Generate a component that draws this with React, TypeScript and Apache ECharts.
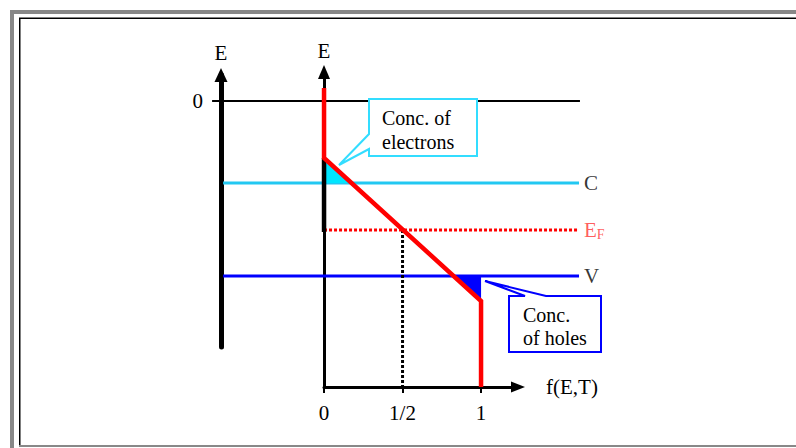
import React, { useEffect, useRef } from "react";
import * as echarts from "echarts";

const FONT = "Liberation Serif";

// Energy values (arbitrary units, 0 = top reference line)
const E_MIN = -5.72;
const E_MAX = 0.58;
const E_LEFT_MIN = -4.92;
const E_LEFT_MAX = 0.52;
const E_ZERO = 0;
const E_C = -1.64;
const E_F = -2.58;
const E_V = -3.5;

// Occupation axis
const F_MAX = 1.236;
const F_WIDE_MIN = -0.79;
const F_WIDE_MAX = 1.885;
const fTicks = [0, 0.5, 1];
const fTickLabels = ["0", "1/2", "1"];

// Fermi function f(E,T) (linearised sketch)
const fermiF = [0, 0, 1, 1];
const fermiE = [0.26, -1.14, -4.0, E_MIN];

// Level lines extent along f
const zeroLineF = [-0.713, 1.63];
const bandLineF = [-0.643, 1.624];
const fermiLevelF = [0, 1.624];

// Shaded regions (triangle vertices f,E)
const electronsFill = [0, -1.14, 0, E_C, 0.175, E_C];
const holesFill = [0.825, E_V, 1, E_V, 1, -4.0];

const levelLabels = ["C", "F", "V"];

function seg(fs: number[], es: number[]) {
  return fs.map((f, i) => [f, es[i]]);
}

export default function App() {
  const ref = useRef<HTMLDivElement>(null);
  useEffect(() => {
    if (!ref.current) return;
    const chart = echarts.init(ref.current, null, { renderer: "svg" });
    const txt = { fontFamily: FONT, fontSize: 21, color: "#000" };
    const tri = (color: string) => (params: any, api: any) => {
      const pts = [0, 2, 4].map((i) => api.coord([api.value(i), api.value(i + 1)]));
      return { type: "polygon", shape: { points: pts }, style: { fill: color } };
    };
    const wide = { xAxisIndex: 2, yAxisIndex: 2 };
    const option: any = {
      animation: false,
      backgroundColor: "#fff",
      grid: [
        { left: 324, top: 72, width: 194, height: 315, outerBoundsMode: "none" },
        { left: 221, top: 75, width: 10, height: 272, outerBoundsMode: "none" },
        { left: 200, top: 72, width: 420, height: 315, outerBoundsMode: "none" },
      ],
      xAxis: [
        {
          type: "value",
          gridIndex: 0,
          min: 0,
          max: F_MAX,
          axisLine: {
            show: true,
            onZero: false,
            symbol: ["none", "triangle"],
            symbolSize: [11, 14],
            lineStyle: { color: "#000", width: 3 },
          },
          axisTick: { show: true, customValues: fTicks, length: 6, lineStyle: { color: "#000", width: 2 } },
          axisLabel: {
            show: true,
            customValues: fTicks,
            formatter: (v: number) => {
              const i = fTicks.indexOf(v);
              return i >= 0 ? fTickLabels[i] : "";
            },
            margin: 15,
            ...txt,
          },
          splitLine: { show: false },
          name: "f(E,T)",
          nameLocation: "end",
          nameGap: 28,
          nameTextStyle: { ...txt, padding: [0, 0, 13, 0] },
          z: 3,
        },
        { type: "value", gridIndex: 1, min: 0, max: 1, show: false },
        { type: "value", gridIndex: 2, min: F_WIDE_MIN, max: F_WIDE_MAX, show: false },
      ],
      yAxis: [
        {
          type: "value",
          gridIndex: 0,
          min: E_MIN,
          max: E_MAX,
          axisLine: {
            show: true,
            onZero: false,
            symbol: ["none", "triangle"],
            symbolSize: [12, 14],
            lineStyle: { color: "#000", width: 3 },
          },
          axisTick: { show: false },
          axisLabel: { show: false },
          splitLine: { show: false },
          name: "E",
          nameLocation: "end",
          nameGap: 11,
          nameTextStyle: { ...txt },
        },
        {
          type: "value",
          gridIndex: 1,
          min: E_LEFT_MIN,
          max: E_LEFT_MAX,
          axisLine: {
            show: true,
            onZero: false,
            symbol: ["none", "triangle"],
            symbolSize: [13, 14],
            lineStyle: { color: "#000", width: 5 },
          },
          axisTick: { show: false },
          axisLabel: {
            show: true,
            customValues: [E_ZERO],
            formatter: () => "0",
            margin: 18,
            ...txt,
          },
          splitLine: { show: false },
          name: "E",
          nameLocation: "end",
          nameGap: 12,
          nameTextStyle: { ...txt },
        },
        { type: "value", gridIndex: 2, min: E_MIN, max: E_MAX, show: false },
      ],
      series: [
        {
          type: "line",
          ...wide,
          symbol: "none",
          data: seg(zeroLineF, [E_ZERO, E_ZERO]),
          lineStyle: { color: "#000", width: 2 },
          z: 2,
        },
        {
          type: "line",
          ...wide,
          symbol: "none",
          data: seg(bandLineF, [E_C, E_C]),
          lineStyle: { color: "#22c8f2", width: 3 },
          z: 2,
        },
        {
          type: "line",
          ...wide,
          symbol: "none",
          data: seg(bandLineF, [E_V, E_V]),
          lineStyle: { color: "#0000ff", width: 3 },
          z: 2,
        },
        {
          type: "line",
          ...wide,
          symbol: "none",
          data: seg(fermiLevelF, [E_F, E_F]),
          lineStyle: { color: "#ff0000", width: 3, type: [3, 2] },
          z: 2,
        },
        {
          type: "line",
          ...wide,
          symbol: "none",
          data: seg([0.5, 0.5], [E_F, E_MIN]),
          lineStyle: { color: "#000", width: 3, type: [3, 2] },
          z: 2,
        },
        {
          type: "custom",
          ...wide,
          renderItem: tri("#00e6ff"),
          data: [electronsFill],
          z: 3,
        },
        {
          type: "custom",
          ...wide,
          renderItem: tri("#0000ff"),
          data: [holesFill],
          z: 3,
        },
        {
          type: "line",
          ...wide,
          symbol: "none",
          data: seg([0, 0], [fermiE[1], E_F - 0.04]),
          lineStyle: { color: "#000", width: 4.5 },
          z: 4,
        },
        {
          type: "line",
          ...wide,
          symbol: "none",
          data: seg(fermiF, fermiE),
          lineStyle: { color: "#ff0000", width: 4.5, join: "miter" },
          z: 5,
        },
        {
          type: "scatter",
          ...wide,
          symbolSize: 0,
          data: [
            { value: [bandLineF[1], E_C], name: levelLabels[0] },
            { value: [bandLineF[1], E_F], name: levelLabels[1] },
            { value: [bandLineF[1], E_V], name: levelLabels[2] },
          ],
          label: {
            show: true,
            position: "right",
            distance: 5,
            formatter: (p: any) =>
              p.name === "F" ? "{e|E}{f|F}" : "{n|" + p.name + "}",
            rich: {
              n: { fontFamily: FONT, fontSize: 21, color: "#000", lineHeight: 22 },
              e: { fontFamily: FONT, fontSize: 21, color: "#ff3333", lineHeight: 22 },
              f: { fontFamily: FONT, fontSize: 14, color: "#ff3333", lineHeight: 14, verticalAlign: "bottom" },
            },
          },
          z: 6,
        },
      ],
      graphic: [
        // frame
        { type: "rect", shape: { x: 10, y: 10, width: 4, height: 438 }, style: { fill: "#888" }, silent: true },
        { type: "rect", shape: { x: 10, y: 10, width: 786, height: 4 }, style: { fill: "#888" }, silent: true },
        { type: "line", shape: { x1: 19.75, y1: 18, x2: 19.75, y2: 446 }, style: { stroke: "#000", lineWidth: 1.5 }, silent: true },
        { type: "line", shape: { x1: 19, y1: 18.25, x2: 796, y2: 18.25 }, style: { stroke: "#000", lineWidth: 1.5 }, silent: true },
        { type: "rect", shape: { x: 19, y: 445, width: 777, height: 2 }, style: { fill: "#888" }, silent: true },
        // electrons callout
        {
          type: "polygon",
          z: 100,
          shape: {
            points: [
              [369, 99], [477, 99], [477, 156], [369, 156], [369, 149], [339, 165], [369, 134],
            ],
          },
          style: { fill: "#fff", stroke: "#33ddff", lineWidth: 2 },
          silent: true,
        },
        { type: "text", z: 101, x: 382, y: 118, style: { text: "Conc. of", fontFamily: FONT, fontSize: 20, fill: "#000", verticalAlign: "middle" }, silent: true },
        { type: "text", z: 101, x: 382, y: 142, style: { text: "electrons", fontFamily: FONT, fontSize: 20, fill: "#000", verticalAlign: "middle" }, silent: true },
        // holes callout
        {
          type: "polygon",
          z: 100,
          shape: {
            points: [
              [509, 296], [525, 296], [485, 281], [546, 296], [601, 296], [601, 352], [509, 352],
            ],
          },
          style: { fill: "#fff", stroke: "#0000ff", lineWidth: 2 },
          silent: true,
        },
        { type: "text", z: 101, x: 523, y: 315, style: { text: "Conc.", fontFamily: FONT, fontSize: 20, fill: "#000", verticalAlign: "middle" }, silent: true },
        { type: "text", z: 101, x: 523, y: 338, style: { text: "of holes", fontFamily: FONT, fontSize: 20, fill: "#000", verticalAlign: "middle" }, silent: true },
      ],
    };
    chart.setOption(option);
    return () => chart.dispose();
  }, []);
  return (
    <div
      ref={ref}
      style={{ position: "fixed", left: 0, top: 0, width: 796, height: 448, background: "#fff" }}
    />
  );
}
